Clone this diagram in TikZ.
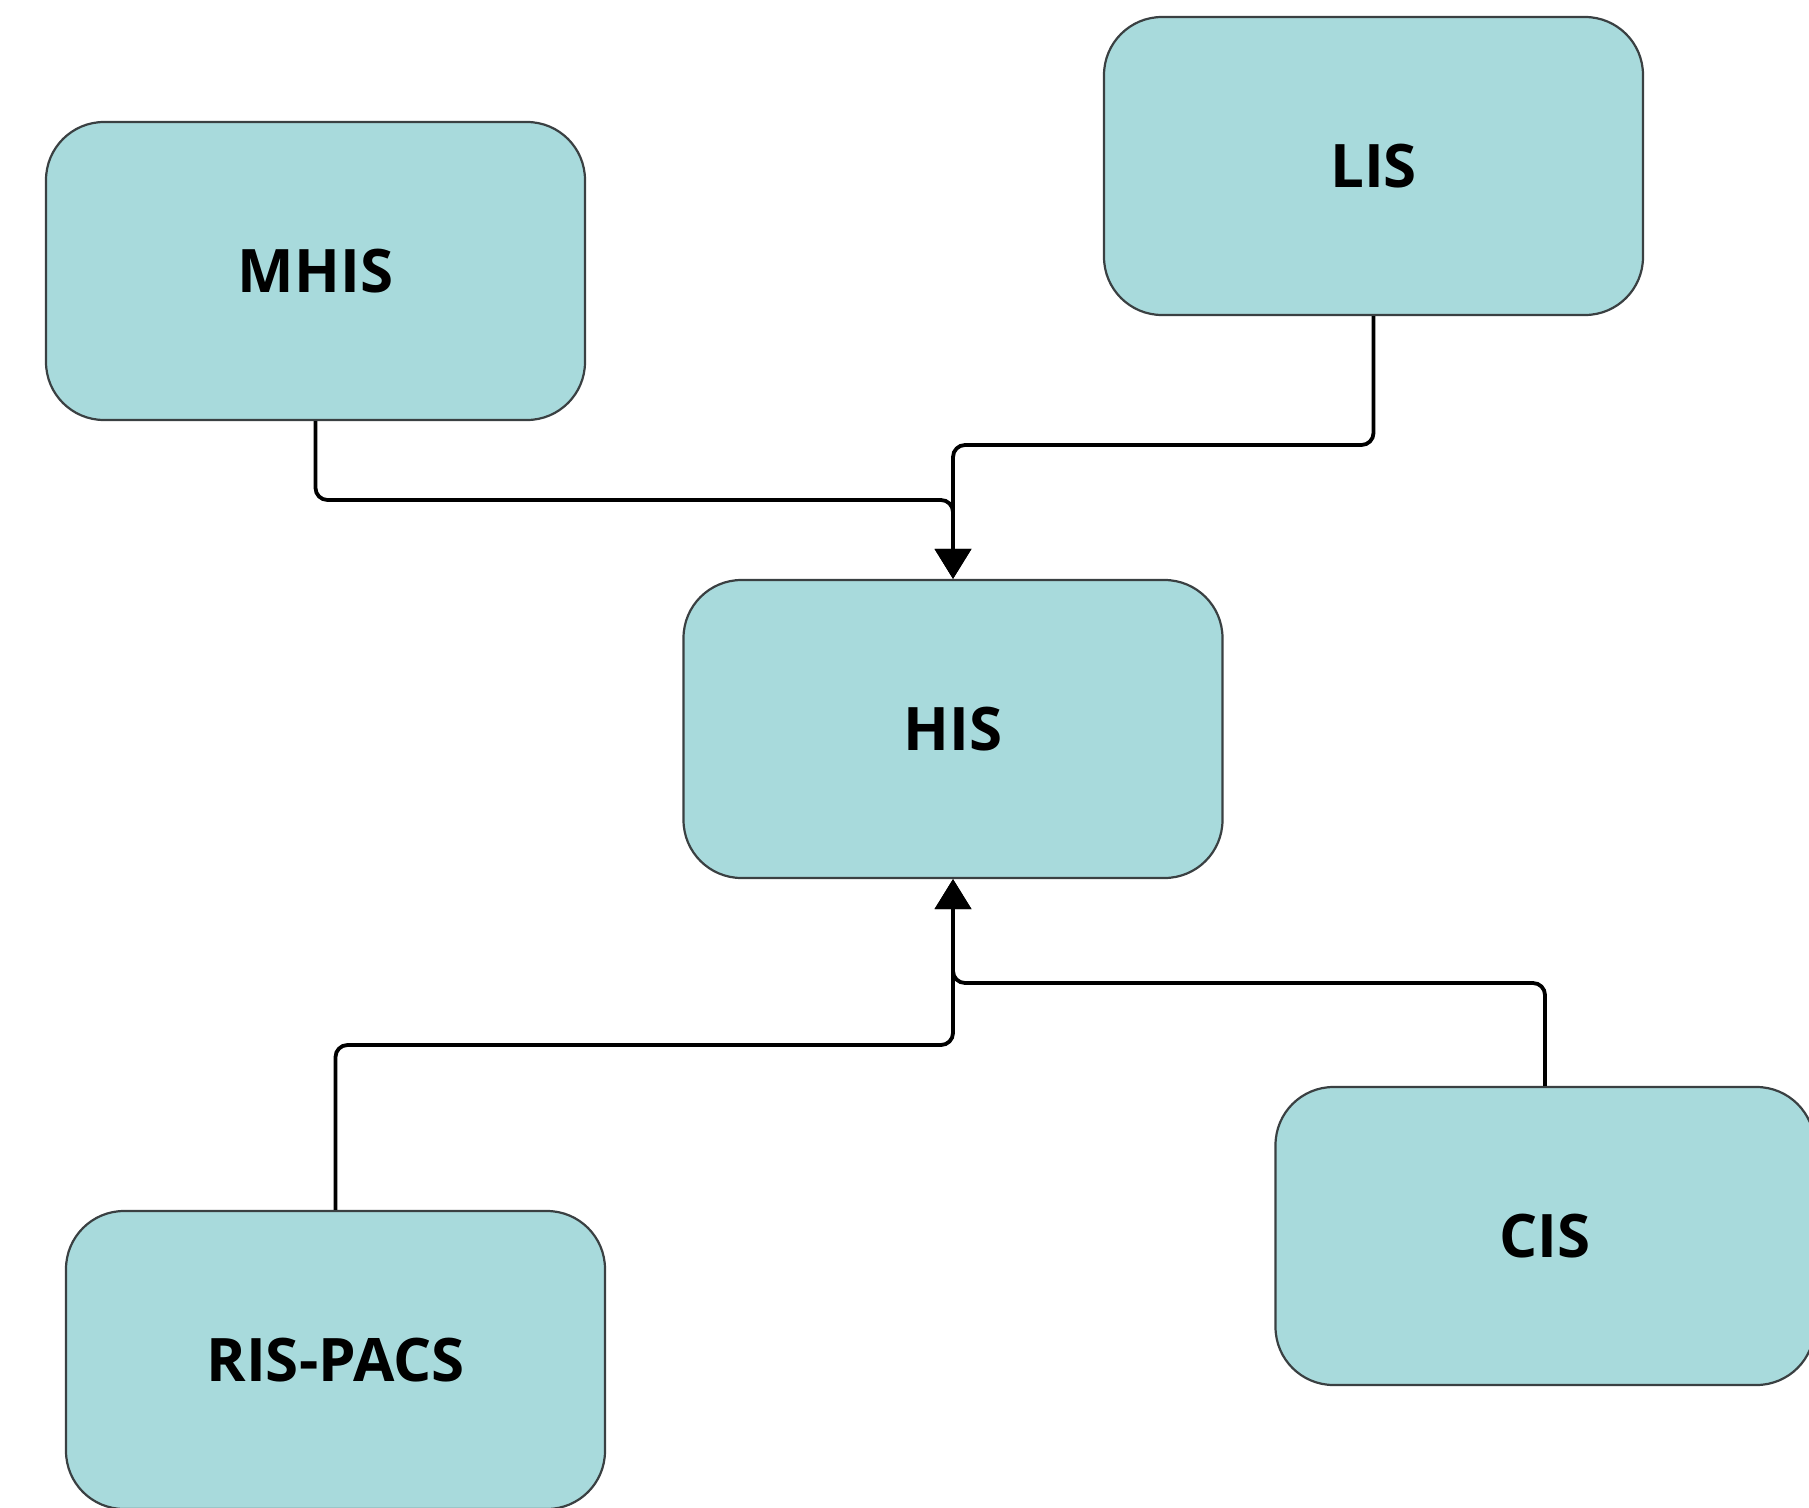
\documentclass[tikz,border=0pt]{standalone}
\usepackage{fontspec}
\setmainfont{Open Sans}
\usetikzlibrary{arrows.meta}
\definecolor{boxfill}{HTML}{A8DADC}
\definecolor{boxline}{HTML}{3A4042}
\begin{document}
\begin{tikzpicture}[x=1pt,y=-1pt,
  sysbox/.style={draw=boxline, line width=2.2pt, fill=boxfill, rounded corners=58pt,
    minimum width=539pt, minimum height=298pt, inner sep=0pt, text=black,
    font=\fontsize{60}{72}\selectfont\bfseries},
  link/.style={draw=black, line width=3.8pt, rounded corners=12pt},
  tipped/.style={-{Triangle[width=36pt,length=30pt]}}]
\useasboundingbox (0,0) rectangle (1809,1507);
\clip (0,0) rectangle (1809,1507);
\fill[white] (0,0) rectangle (1809,1507);

\node[sysbox] (mhis) at (315.5,271) {\raisebox{-3pt}{MHIS}};
\node[sysbox] (lis) at (1373.5,166) {\raisebox{-3pt}{LIS}};
\node[sysbox] (his) at (953,729) {\raisebox{-3pt}{HIS}};
\node[sysbox] (ris) at (335.5,1360) {\raisebox{-3pt}{RIS-PACS}};
\node[sysbox] (cis) at (1545,1236) {\raisebox{-3pt}{CIS}};

\coordinate (j1) at (953,500);
\coordinate (j2) at (953,445);
\coordinate (j3) at (953,1045);
\coordinate (j4) at (953,983);

\draw[link,tipped] (mhis.south) |- (j1) -- (his.north);
\draw[link,tipped] (lis.south) |- (j2) -- (his.north);
\draw[link,tipped] (ris.north) |- (j3) -- (his.south);
\draw[link,tipped] (cis.north) |- (j4) -- (his.south);
\end{tikzpicture}
\end{document}
